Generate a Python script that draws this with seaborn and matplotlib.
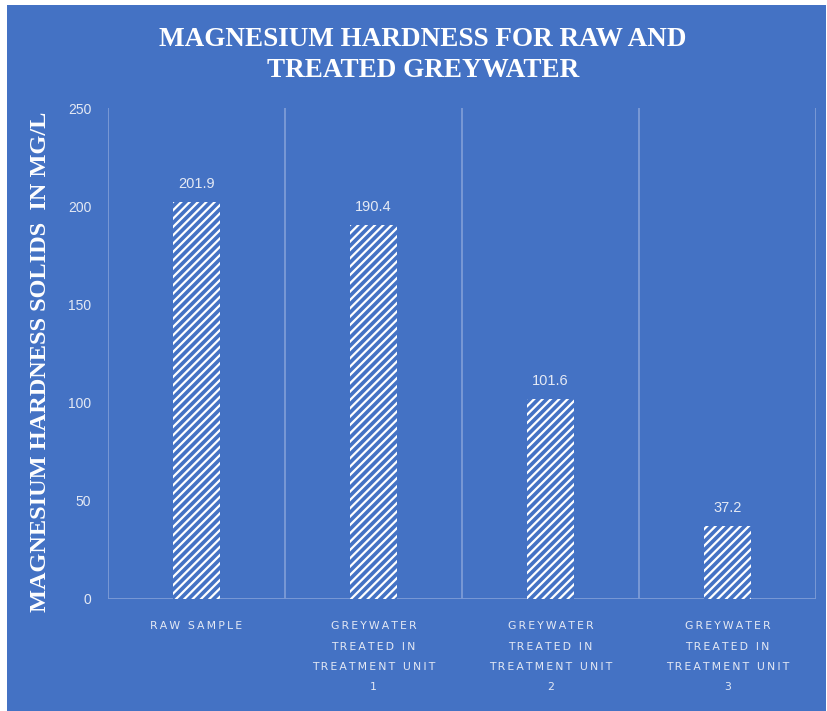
import matplotlib
matplotlib.use("Agg")
import matplotlib.pyplot as plt
import seaborn as sns
import pandas as pd
from matplotlib.patches import Rectangle

# Magnesium hardness (mg/L) for the raw sample and each treatment unit
categories = [
    "RAW SAMPLE",
    "GREYWATER\nTREATED IN\nTREATMENT UNIT\n1",
    "GREYWATER\nTREATED IN\nTREATMENT UNIT\n2",
    "GREYWATER\nTREATED IN\nTREATMENT UNIT\n3",
]
values = [201.9, 190.4, 101.6, 37.2]
y_ticks = [0, 50, 100, 150, 200, 250]

BLUE = "#4472C4"
GRID = "#7D9BD6"
TEXT = "#E4E9F4"

sns.set_theme(style="white")
plt.rcParams["hatch.color"] = "white"
plt.rcParams["hatch.linewidth"] = 1.6

df = pd.DataFrame({"category": categories, "value": values})

fig = plt.figure(figsize=(8.28, 7.11), dpi=100, facecolor="white")
# blue chart panel inside a thin white margin
fig.patches.append(Rectangle((7 / 828, 0), 819 / 828, 706 / 711,
                             transform=fig.transFigure, facecolor=BLUE,
                             edgecolor="none", zorder=-5))

ax = fig.add_axes([108 / 828, 112 / 711, 708 / 828, 491 / 711])
ax.set_zorder(2)
ax.set_facecolor("none")

sns.barplot(data=df, x="category", y="value", ax=ax, width=0.27,
            color=BLUE, saturation=1, edgecolor="white", linewidth=0,
            hatch="////", zorder=3)

ax.set_ylim(0, 250)
ax.set_xlim(-0.5, len(categories) - 0.5)
ax.set_yticks(y_ticks)

# vertical separators between categories
for b in range(len(categories) + 1):
    ax.axvline(b - 0.5, color=GRID, lw=1.3, zorder=1)
ax.axhline(0, color=GRID, lw=1.3, zorder=1)
for s in ax.spines.values():
    s.set_visible(False)

# value labels above the bars
for i, v in enumerate(values):
    ax.annotate(f"{v:.1f}", (i, v), xytext=(0, 8), textcoords="offset points",
                ha="center", va="bottom", color=TEXT, fontsize=10.5,
                family="Liberation Sans")

ax.set_yticklabels([str(t) for t in y_ticks], color=TEXT, fontsize=10,
                   family="Liberation Sans")
ax.tick_params(axis="y", length=0, pad=12)

spaced = ["\n".join("\u2009".join(line) for line in c.split("\n")) for c in categories]
ax.set_xticks(range(len(categories)))
ax.set_xticklabels(spaced, color=TEXT, fontsize=7.8, family="DejaVu Sans",
                   linespacing=2.3, va="top")
ax.tick_params(axis="x", length=0, pad=16)

ax.set_xlabel("")
ax.set_ylabel("MAGNESIUM HARDNESS SOLIDS  IN MG/L", color="white",
              fontsize=17.5, fontweight="bold", family="Liberation Serif")
ax.yaxis.set_label_coords(-57 / 708, (599 - 362) / 491)

fig.text(423 / 828, 1 - 55 / 711, "MAGNESIUM HARDNESS FOR RAW AND\nTREATED GREYWATER",
         ha="center", va="center", color="white", fontsize=19.5,
         fontweight="bold", family="Liberation Serif", linespacing=1.3)

fig.savefig("out.png", dpi=100, facecolor="white")
